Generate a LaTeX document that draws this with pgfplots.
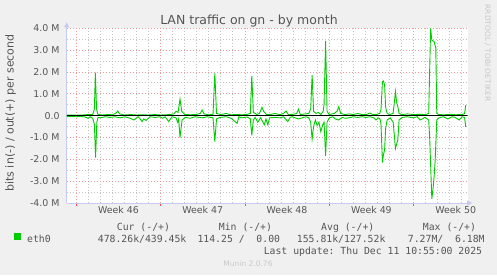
\documentclass[border=0pt]{standalone}
\usepackage{pgfplots}
\pgfplotsset{compat=1.18}
\usepackage{fontspec}
\setmainfont{DejaVu Sans}
\setmonofont{DejaVu Sans Mono}
\usetikzlibrary{arrows.meta}
\definecolor{bg}{HTML}{F0F0F0}
\definecolor{munin}{HTML}{00CC00}
\definecolor{txt}{HTML}{555555}
\definecolor{axcol}{HTML}{C8C8F0}
\definecolor{mgrid}{HTML}{EE9A9A}
\definecolor{ngrid}{HTML}{C4C4C4}
\definecolor{wm}{HTML}{C8C8C8}
\begin{document}
\begin{tikzpicture}[x=1bp,y=1bp]
\begin{scope}[shift={(-66.7,-72)}]
\fill[bg] (0,0) rectangle (497,275);
\useasboundingbox (0,0) rectangle (497,275);
\end{scope}
\begin{axis}[
  scale only axis, width=401bp, height=174.7bp,
  xmin=-0.8, xmax=32.5, ymin=-4, ymax=4,
  axis background/.style={fill=white},
  axis lines=left,
  axis line style={draw=axcol, line width=0.8bp},
  x axis line style={-{Triangle[length=5bp,width=5bp]}, shorten >=-4.5bp},
  y axis line style={-{Triangle[length=5bp,width=5bp]}, shorten >=-6bp},
  xtick={0,7,14,21,28}, xticklabels={},
  minor xtick={1,2,3,4,5,6,8,9,10,11,12,13,15,16,17,18,19,20,22,23,24,25,26,27,29,30,31,32},
  extra x ticks={3.5,10.5,17.5,24.5,31.5},
  extra x tick labels={Week 46,Week 47,Week 48,Week 49,Week 50},
  extra x tick style={grid=none, major tick length=0pt},
  ytick={-4,-3,-2,-1,0,1,2,3,4},
  yticklabels={-4.0 M,-3.0 M,-2.0 M,-1.0 M,0.0,1.0 M,2.0 M,3.0 M,4.0 M},
  minor ytick={-3.5,-2.5,-1.5,-0.5,0.5,1.5,2.5,3.5},
  grid=both,
  major grid style={draw=mgrid, line width=0.8bp, dash pattern=on 1bp off 2bp},
  minor grid style={draw=ngrid, line width=0.8bp, dash pattern=on 1bp off 2bp},
  tick align=outside,
  major tick length=3bp, minor tick length=0pt,
  xtick style={draw=red!70, line width=0.8bp},
  ytick style={draw=none},
  ticklabel style={font=\fontsize{9.4bp}{11bp}\selectfont, text=txt, inner sep=0pt},
  xticklabel style={anchor=base, yshift=-10bp},
  yticklabel style={anchor=east, xshift=-4bp},
  legend style={at={(-0.1314,-0.2038)}, anchor=west, draw=none, fill=none, inner sep=0pt,
    nodes={inner sep=0pt}, font=\ttfamily\fontsize{9.8bp}{11bp}\selectfont, text=txt},
  legend image code/.code={\fill[munin] (0bp,0bp) rectangle (5.3bp,5.6bp);},
  clip=true,
]
\addplot[munin, line width=0.9bp] coordinates {
(-0.80,0.02) (-0.5,0.03) (0.0,0.02) (0.5,0.03) (1.0,0.05) (1.36,0.05) (1.50,0.3) (1.58,1.97)
(1.68,0.3) (1.80,0.05) (2.2,0.03) (2.6,0.05) (3.0,0.04) (3.3,0.12) (3.44,0.21) (3.6,0.08)
(4.0,0.03) (4.5,0.05) (5.0,0.03) (5.5,0.04) (6.0,0.03) (6.5,0.05) (7.0,0.03) (7.4,0.04)
(7.8,0.05) (8.1,0.08) (8.28,0.2) (8.45,0.15) (8.61,0.76) (8.75,0.2) (9.0,0.05) (9.5,0.04)
(10.0,0.06) (10.3,0.1) (10.44,0.26) (10.6,0.08) (11.0,0.04) (11.35,0.06) (11.50,1.94) (11.64,0.1)
(12.0,0.05) (12.44,0.1) (12.8,0.04) (13.3,0.05) (13.8,0.04) (14.2,0.06) (14.45,0.1) (14.57,1.82)
(14.70,0.15) (15.0,0.05) (15.2,0.1) (15.42,0.38) (15.55,0.2) (15.8,0.05) (16.2,0.06) (16.5,0.1)
(16.9,0.04) (17.2,0.1) (17.42,0.21) (17.6,0.05) (18.0,0.06) (18.3,0.1) (18.44,0.29) (18.6,0.05)
(19.0,0.08) (19.3,0.1) (19.46,0.3) (19.58,1.86) (19.70,0.2) (19.9,0.1) (20.1,0.15) (20.3,0.05)
(20.5,0.2) (20.57,0.5) (20.70,3.42) (20.82,0.2) (21.0,0.05) (21.4,0.1) (21.65,0.2) (21.79,0.41)
(21.95,0.1) (22.3,0.05) (22.65,0.08) (23.0,0.05) (23.37,0.1) (23.7,0.05) (24.1,0.06) (24.39,0.12)
(24.6,0.05) (24.9,0.05) (25.2,0.1) (25.30,0.3) (25.42,1.56) (25.50,1.59) (25.60,1.4) (25.68,0.4)
(25.81,0.1) (26.0,0.05) (26.3,0.1) (26.39,0.5) (26.50,1.1) (26.60,0.6) (26.70,0.41) (26.80,0.1)
(27.0,0.05) (27.5,0.08) (28.0,0.05) (28.55,0.06) (29.0,0.05) (29.26,0.1) (29.42,4.0) (29.52,3.46)
(29.71,3.39) (29.85,3.1) (29.93,0.1) (30.1,0.05) (30.5,0.04) (30.85,0.05) (31.2,0.06) (31.5,0.04)
(31.8,0.05) (32.1,0.06) (32.24,0.1) (32.33,0.46) (32.37,0.46)
};
\addlegendentry{\hspace{6.7bp}eth0}
\addplot[munin, line width=0.9bp, forget plot] coordinates {
(-0.80,-0.05) (-0.5,-0.04) (0.0,-0.05) (0.3,-0.03) (0.72,-0.06) (0.97,-0.12) (1.14,-0.05) (1.36,-0.12)
(1.50,-0.4) (1.60,-1.92) (1.70,-0.3) (1.80,-0.08) (2.0,-0.1) (2.38,-0.05) (2.8,-0.08) (3.21,-0.05)
(3.63,-0.1) (4.04,-0.05) (4.46,-0.12) (4.79,-0.2) (5.0,-0.1) (5.12,-0.05) (5.3,-0.15) (5.46,-0.27)
(5.6,-0.15) (5.79,-0.22) (6.12,-0.05) (6.54,-0.08) (6.95,-0.05) (7.18,-0.12) (7.37,-0.05) (7.67,-0.27)
(7.95,-0.05) (8.28,-0.1) (8.42,-0.3) (8.5,-0.15) (8.61,-1.0) (8.78,-0.2) (9.03,-0.08) (9.45,-0.12)
(9.86,-0.05) (10.44,-0.1) (10.86,-0.05) (11.35,-0.1) (11.50,-1.19) (11.64,-0.15) (11.94,-0.08) (12.44,-0.05)
(12.85,-0.12) (13.35,-0.35) (13.5,-0.05) (13.76,-0.1) (14.18,-0.06) (14.45,-0.15) (14.57,-0.9) (14.70,-0.2)
(14.85,-0.08) (15.07,-0.3) (15.3,-0.1) (15.61,-0.42) (15.75,-0.15) (15.90,-0.42) (16.05,-0.1) (16.42,-0.08)
(16.92,-0.1) (17.2,-0.05) (17.56,-0.27) (17.75,-0.08) (17.92,-0.05) (18.44,-0.15) (18.75,-0.1) (19.08,-0.05)
(19.3,-0.1) (19.46,-0.3) (19.58,-1.07) (19.70,-0.5) (19.85,-0.2) (20.0,-0.45) (20.15,-0.3) (20.3,-0.73)
(20.47,-0.4) (20.57,-0.3) (20.70,-1.84) (20.82,-0.3) (21.0,-0.1) (21.3,-0.05) (21.49,-0.15) (21.79,-0.2)
(22.07,-0.08) (22.3,-0.12) (22.65,-0.1) (22.98,-0.05) (23.37,-0.08) (23.73,-0.05) (24.06,-0.08) (24.39,-0.05)
(24.7,-0.1) (24.89,-0.2) (25.05,-0.1) (25.22,-0.15) (25.30,-0.4) (25.42,-2.15) (25.50,-1.8) (25.60,-1.57)
(25.68,-0.6) (25.81,-0.2) (26.06,-0.1) (26.31,-0.3) (26.39,-0.8) (26.50,-1.5) (26.60,-1.3) (26.70,-1.1)
(26.80,-0.2) (27.05,-0.08) (27.47,-0.05) (27.97,-0.1) (28.3,-0.05) (28.55,-0.2) (28.96,-0.08) (29.26,-0.2)
(29.34,-1.0) (29.52,-3.81) (29.63,-3.3) (29.71,-2.79) (29.80,-2.03) (29.93,-0.2) (30.12,-0.1) (30.46,-0.05)
(30.85,-0.15) (31.2,-0.05) (31.45,-0.08) (31.79,-0.2) (32.03,-0.05) (32.24,-0.08) (32.33,-0.5) (32.37,-0.5)
};
\addplot[black, line width=0.9bp, forget plot] coordinates {(-0.8,0) (32.5,0)};
\end{axis}
\begin{scope}[shift={(-66.7,-72)}]
\node[anchor=base, inner sep=0pt, text=txt, font=\fontsize{12.5bp}{14bp}\selectfont] at (249,251) {LAN traffic on gn - by month};
\node[rotate=90, inner sep=0pt, text=txt, font=\fontsize{11bp}{13bp}\selectfont] at (10.5,162) {bits in(-) / out(+) per second};
\node[rotate=-90, inner sep=0pt, text=wm, font=\fontsize{7.5bp}{9bp}\selectfont] at (487.5,222) {RRDTOOL / TOBI OETIKER};
\begin{scope}[every node/.style={inner sep=0pt, text=txt, font=\ttfamily\fontsize{9.8bp}{11bp}\selectfont}]
\node[anchor=base west] at (116.7,45) {Cur (-/+)};
\node[anchor=base west] at (218.7,45) {Min (-/+)};
\node[anchor=base west] at (321,45) {Avg (-/+)};
\node[anchor=base west] at (422.7,45) {Max (-/+)};
\node[anchor=base west] at (97.7,33) {478.26k/439.45k};
\node[anchor=base west] at (197.3,33) {114.25 /\ \ 0.00};
\node[anchor=base west] at (296.7,33) {155.81k/127.52k};
\node[anchor=base west] at (407.7,33) {7.27M/\ \ 6.18M};
\node[anchor=base east] at (482.3,21) {Last update: Thu Dec 11 10:55:00 2025};
\end{scope}
\node[anchor=base, inner sep=0pt, text=wm, font=\fontsize{7.5bp}{9bp}\selectfont] at (248,8.3) {Munin 2.0.76};
\end{scope}
\end{tikzpicture}
\end{document}
